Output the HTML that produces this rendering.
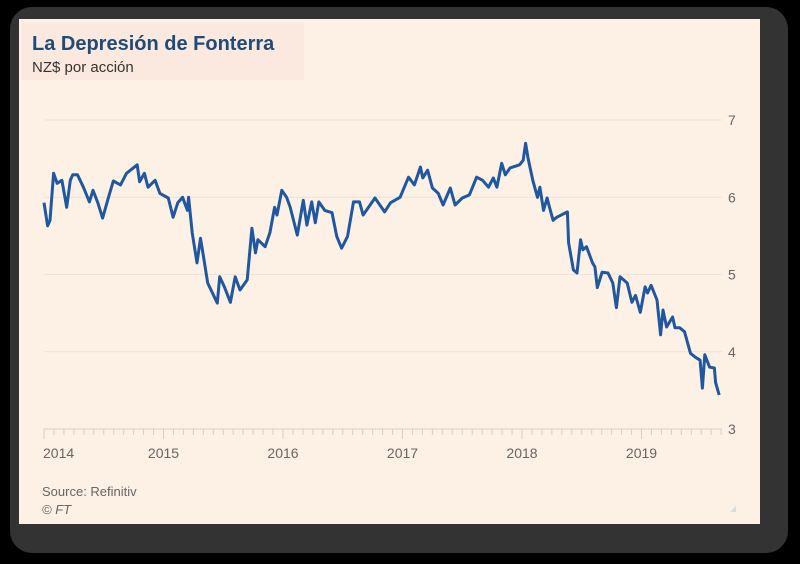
<!DOCTYPE html>
<html><head><meta charset="utf-8"><style>
html,body{margin:0;padding:0;background:#000;width:800px;height:564px;overflow:hidden;font-family:"Liberation Sans",sans-serif}
#frame{position:absolute;left:10px;top:7px;width:778px;height:546px;background:#333;border-radius:22px}
#panel{position:absolute;left:19px;top:19px;width:741px;height:505px;background:#fdf0e5}
#titlebox{position:absolute;left:22px;top:23px;width:282px;height:57px;background:#fbe9df}
</style></head><body>
<div id="frame"></div>
<div id="panel"></div>
<div id="titlebox"></div>
<svg width="800" height="564" style="position:absolute;left:0;top:0">
<text x="32" y="50" font-size="20" font-weight="bold" fill="#1e4b78">La Depresión de Fonterra</text>
<text x="32" y="72" font-size="15" fill="#333">NZ$ por acción</text>
<g id="grid"></g><g id="xaxis"></g>
<path id="line" fill="none" stroke="#1f57a0" stroke-width="3" stroke-linejoin="round"></path>
<text x="42" y="496" font-size="13" fill="#666">Source: Refinitiv</text>
<text x="42" y="514" font-size="13" font-style="italic" fill="#666">© FT</text>
<polygon points="736,506 736,512 730,512" fill="#ddd"/>
</svg>
<script>
const yTicks=[3,4,5,6,7];
const xYears=[2014,2015,2016,2017,2018,2019];
const dates=[2014.00,2014.03,2014.05,2014.08,2014.11,2014.15,2014.19,2014.22,2014.24,2014.28,2014.33,2014.38,2014.41,2014.45,2014.49,2014.54,2014.58,2014.64,2014.69,2014.78,2014.80,2014.84,2014.87,2014.93,2014.97,2015.04,2015.08,2015.12,2015.16,2015.20,2015.21,2015.24,2015.28,2015.31,2015.33,2015.37,2015.45,2015.47,2015.51,2015.56,2015.60,2015.64,2015.70,2015.74,2015.77,2015.79,2015.85,2015.89,2015.93,2015.95,2015.99,2016.03,2016.06,2016.12,2016.17,2016.20,2016.24,2016.27,2016.30,2016.35,2016.41,2016.45,2016.49,2016.54,2016.59,2016.64,2016.67,2016.77,2016.85,2016.90,2016.98,2017.05,2017.10,2017.15,2017.17,2017.21,2017.25,2017.30,2017.34,2017.40,2017.44,2017.50,2017.56,2017.62,2017.67,2017.72,2017.76,2017.79,2017.83,2017.86,2017.90,2017.98,2018.01,2018.03,2018.05,2018.09,2018.13,2018.15,2018.18,2018.21,2018.23,2018.26,2018.29,2018.38,2018.39,2018.43,2018.46,2018.49,2018.51,2018.54,2018.59,2018.61,2018.63,2018.67,2018.72,2018.76,2018.79,2018.82,2018.88,2018.92,2018.95,2018.99,2019.03,2019.05,2019.08,2019.13,2019.16,2019.18,2019.21,2019.26,2019.28,2019.32,2019.36,2019.41,2019.45,2019.49,2019.51,2019.53,2019.57,2019.61,2019.62,2019.65];
const prices=[5.93,5.63,5.70,6.31,6.18,6.22,5.87,6.22,6.29,6.29,6.13,5.94,6.09,5.93,5.73,6.00,6.21,6.16,6.31,6.42,6.20,6.31,6.13,6.22,6.05,5.99,5.74,5.93,6.00,5.83,6.00,5.54,5.15,5.47,5.28,4.89,4.63,4.97,4.84,4.64,4.97,4.80,4.93,5.60,5.28,5.45,5.36,5.54,5.87,5.77,6.09,6.00,5.87,5.51,5.96,5.64,5.94,5.67,5.94,5.83,5.80,5.49,5.34,5.49,5.94,5.94,5.77,5.99,5.81,5.93,6.00,6.26,6.16,6.39,6.25,6.35,6.12,6.05,5.90,6.12,5.90,5.99,6.03,6.26,6.22,6.13,6.25,6.13,6.44,6.29,6.38,6.42,6.48,6.70,6.51,6.22,6.00,6.13,5.83,5.99,5.87,5.70,5.74,5.81,5.41,5.06,5.02,5.45,5.32,5.36,5.15,5.10,4.83,5.03,5.02,4.89,4.57,4.97,4.89,4.64,4.73,4.51,4.84,4.76,4.86,4.67,4.22,4.54,4.32,4.45,4.31,4.31,4.26,3.98,3.93,3.89,3.53,3.96,3.80,3.79,3.60,3.44];
const X=t=>44+(t-2014)*119.5;
const Y=v=>429-(v-3)*77.25;
const NS='http://www.w3.org/2000/svg';
const grid=document.getElementById('grid'),xa=document.getElementById('xaxis');
yTicks.forEach(v=>{
 const l=document.createElementNS(NS,'line');
 
 
 l.setAttribute('x1',44);l.setAttribute('x2',722);l.setAttribute('y1',Y(v));l.setAttribute('y2',Y(v));
 l.setAttribute('stroke',v===3?'#d8cfc6':'#efe3d8');l.setAttribute('stroke-width',1);
 grid.appendChild(l);
 const t=document.createElementNS(NS,'text');
 
 
 t.setAttribute('x',728);t.setAttribute('y',Y(v)+5);t.setAttribute('font-size',14);t.setAttribute('fill','#666');
 t.textContent=v;grid.appendChild(t);
});
for(let m=0;m<=68;m++){
 const t=2014+m/12,x=X(t);
 const l=document.createElementNS(NS,'line');
 
 
 l.setAttribute('x1',x);l.setAttribute('x2',x);l.setAttribute('y1',429);l.setAttribute('y2',m%12===0?439:435);
 l.setAttribute('stroke','#d8cfc6');xa.appendChild(l);
}
xYears.forEach((yr,i)=>{
 const t=document.createElementNS(NS,'text');
 
 
 t.setAttribute('x',i===0?43:X(yr));t.setAttribute('y',458);t.setAttribute('font-size',14);t.setAttribute('fill','#666');
 t.setAttribute('text-anchor',i===0?'start':'middle');
 t.textContent=yr;xa.appendChild(t);
});
document.getElementById('line').setAttribute('d',dates.map((d,i)=>(i?'L':'M')+X(d).toFixed(1)+','+Y(prices[i]).toFixed(1)).join(''));
</script>
</body></html>
